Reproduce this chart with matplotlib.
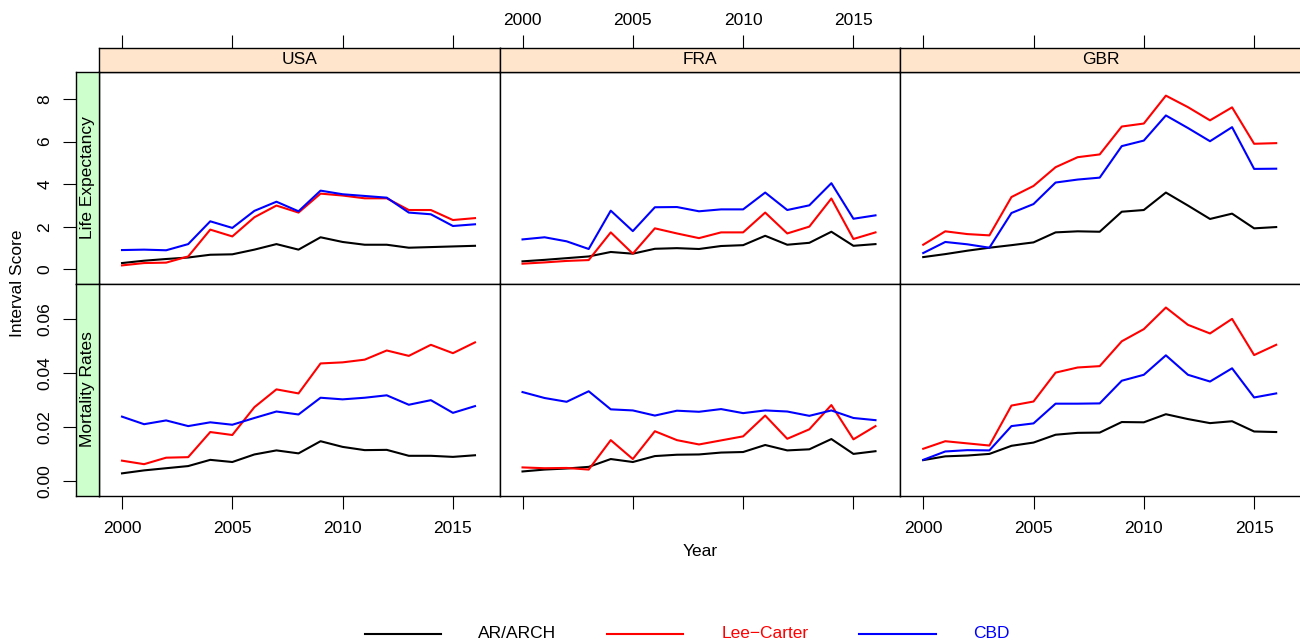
import matplotlib
matplotlib.use("Agg")
import matplotlib.pyplot as plt
from matplotlib.lines import Line2D

plt.rcParams['font.family'] = ['Liberation Sans', 'DejaVu Sans']

# data
years = list(range(2000, 2017))
countries = ['USA', 'FRA', 'GBR']
measures = ['Life Expectancy', 'Mortality Rates']
models = ['AR/ARCH', 'Lee\u2212Carter', 'CBD']
colors = ['black', 'red', 'blue']

usa_le_ar = [0.30, 0.41, 0.49, 0.56, 0.69, 0.71, 0.93, 1.19, 0.93, 1.51, 1.29, 1.16, 1.16, 1.02, 1.05, 1.08, 1.11]
usa_le_lc = [0.19, 0.30, 0.32, 0.61, 1.87, 1.55, 2.45, 3.00, 2.67, 3.56, 3.47, 3.34, 3.34, 2.79, 2.79, 2.32, 2.41]
usa_le_cbd = [0.91, 0.93, 0.90, 1.19, 2.26, 1.95, 2.75, 3.18, 2.73, 3.70, 3.53, 3.45, 3.37, 2.67, 2.59, 2.04, 2.12]

fra_le_ar = [0.38, 0.45, 0.53, 0.61, 0.82, 0.74, 0.97, 1.00, 0.96, 1.10, 1.14, 1.58, 1.16, 1.25, 1.77, 1.11, 1.19]
fra_le_lc = [0.27, 0.33, 0.40, 0.44, 1.74, 0.74, 1.93, 1.69, 1.47, 1.74, 1.74, 2.67, 1.69, 2.01, 3.33, 1.43, 1.74]
fra_le_cbd = [1.41, 1.51, 1.32, 0.96, 2.76, 1.80, 2.92, 2.93, 2.73, 2.82, 2.82, 3.61, 2.79, 3.01, 4.05, 2.38, 2.54]

gbr_le_ar = [0.58, 0.72, 0.88, 1.02, 1.14, 1.27, 1.74, 1.79, 1.77, 2.71, 2.79, 3.61, 3.00, 2.37, 2.62, 1.93, 1.99]
gbr_le_lc = [1.16, 1.79, 1.66, 1.60, 3.40, 3.92, 4.80, 5.27, 5.40, 6.71, 6.85, 8.16, 7.62, 7.00, 7.61, 5.90, 5.93]
gbr_le_cbd = [0.77, 1.29, 1.18, 1.02, 2.65, 3.07, 4.08, 4.22, 4.31, 5.79, 6.05, 7.23, 6.64, 6.02, 6.68, 4.72, 4.73]

usa_mr_ar = [0.0030, 0.0041, 0.0049, 0.0057, 0.0080, 0.0072, 0.0100, 0.0115, 0.0104, 0.0149, 0.0128, 0.0116, 0.0117, 0.0095, 0.0095, 0.0091, 0.0097]
usa_mr_lc = [0.0077, 0.0064, 0.0088, 0.0090, 0.0183, 0.0172, 0.0275, 0.0341, 0.0326, 0.0437, 0.0441, 0.0451, 0.0485, 0.0465, 0.0506, 0.0475, 0.0515]
usa_mr_cbd = [0.0240, 0.0212, 0.0226, 0.0205, 0.0219, 0.0210, 0.0235, 0.0259, 0.0248, 0.0310, 0.0304, 0.0310, 0.0319, 0.0284, 0.0301, 0.0254, 0.0279]

fra_mr_ar = [0.0037, 0.0044, 0.0048, 0.0054, 0.0083, 0.0072, 0.0094, 0.0099, 0.0100, 0.0107, 0.0109, 0.0135, 0.0115, 0.0119, 0.0157, 0.0102, 0.0112]
fra_mr_lc = [0.0052, 0.0049, 0.0050, 0.0044, 0.0153, 0.0083, 0.0186, 0.0153, 0.0137, 0.0152, 0.0167, 0.0244, 0.0158, 0.0193, 0.0283, 0.0156, 0.0205]
fra_mr_cbd = [0.0331, 0.0309, 0.0295, 0.0334, 0.0267, 0.0263, 0.0244, 0.0262, 0.0258, 0.0268, 0.0253, 0.0263, 0.0259, 0.0243, 0.0263, 0.0235, 0.0227]

gbr_mr_ar = [0.0079, 0.0093, 0.0096, 0.0102, 0.0132, 0.0144, 0.0173, 0.0180, 0.0181, 0.0220, 0.0219, 0.0249, 0.0231, 0.0216, 0.0223, 0.0185, 0.0183]
gbr_mr_lc = [0.0121, 0.0149, 0.0141, 0.0133, 0.0281, 0.0296, 0.0403, 0.0422, 0.0427, 0.0519, 0.0564, 0.0644, 0.0580, 0.0548, 0.0602, 0.0468, 0.0506]
gbr_mr_cbd = [0.0080, 0.0111, 0.0116, 0.0115, 0.0205, 0.0215, 0.0288, 0.0288, 0.0289, 0.0373, 0.0395, 0.0467, 0.0395, 0.0370, 0.0419, 0.0311, 0.0326]

panels = {
    ('Life Expectancy', 'USA'): [usa_le_ar, usa_le_lc, usa_le_cbd],
    ('Life Expectancy', 'FRA'): [fra_le_ar, fra_le_lc, fra_le_cbd],
    ('Life Expectancy', 'GBR'): [gbr_le_ar, gbr_le_lc, gbr_le_cbd],
    ('Mortality Rates', 'USA'): [usa_mr_ar, usa_mr_lc, usa_mr_cbd],
    ('Mortality Rates', 'FRA'): [fra_mr_ar, fra_mr_lc, fra_mr_cbd],
    ('Mortality Rates', 'GBR'): [gbr_mr_ar, gbr_mr_lc, gbr_mr_cbd],
}

x_ticks = [2000, 2005, 2010, 2015]
y_ticks = {'Life Expectancy': [0, 2, 4, 6, 8],
           'Mortality Rates': [0.00, 0.02, 0.04, 0.06]}
y_fmt = {'Life Expectancy': '{:.0f}', 'Mortality Rates': '{:.2f}'}
y_lims = {'Life Expectancy': (-0.66, 9.27), 'Mortality Rates': (-0.0052, 0.0733)}
x_lim = (1998.957, 2017.12)

W, H = 1300, 643
FS = 12.5
TICK_LEN = 9.5
TICK_W = 0.8
strip_top = '#ffe5cc'
strip_left = '#ccffcc'

fig = plt.figure(figsize=(W / 100, H / 100), dpi=100)


def rect(x0, y0, x1, y1):
    # pixel box (top-left origin) -> figure fraction
    return [x0 / W, 1 - y1 / H, (x1 - x0) / W, (y1 - y0) / H]


col_left = [99, 499.5, 900.2]
col_w = 400.7
row_top = [72, 283.5]
row_h = [211.5, 212]

for r, meas in enumerate(measures):
    y0 = row_top[r]
    y1 = y0 + row_h[r]
    for c, ctry in enumerate(countries):
        x0 = col_left[c]
        x1 = x0 + col_w
        ax = fig.add_axes(rect(x0, y0, x1, y1))
        for series, col, name in zip(panels[(meas, ctry)], colors, models):
            ax.plot(years, series, color=col, lw=1.5, label=name)
        ax.set_xlim(*x_lim)
        ax.set_ylim(*y_lims[meas])
        ax.set_xticks(x_ticks)
        ax.set_yticks([])
        for s in ax.spines.values():
            s.set_linewidth(1.0)
        ax.tick_params(axis='x', direction='out', length=TICK_LEN, width=TICK_W,
                       labelsize=FS, pad=9)
        if r == 1:
            ax.tick_params(axis='x', bottom=True, labelbottom=(c != 1), top=False)
        else:
            ax.tick_params(axis='x', bottom=False, labelbottom=False, top=False)

        # top strip
        if r == 0:
            sax = fig.add_axes(rect(x0, 48, x1, 72), facecolor=strip_top)
            sax.set_xlim(*x_lim)
            sax.set_ylim(0, 1)
            sax.set_yticks([])
            sax.set_xticks(x_ticks)
            sax.tick_params(axis='x', direction='out', length=TICK_LEN, width=TICK_W,
                            labelsize=FS, pad=5, bottom=False, labelbottom=False,
                            top=True, labeltop=(c == 1))
            for s in sax.spines.values():
                s.set_linewidth(1.0)
            sax.text(0.5, 0.5, ctry, transform=sax.transAxes, ha='center',
                     va='center', fontsize=FS)

    # left strip with y ticks
    lax = fig.add_axes(rect(75.5, y0, 99, y1), facecolor=strip_left)
    lax.set_ylim(*y_lims[meas])
    lax.set_xlim(0, 1)
    lax.set_xticks([])
    lax.set_yticks(y_ticks[meas])
    lax.set_yticklabels([y_fmt[meas].format(v) for v in y_ticks[meas]],
                        rotation=90, va='center')
    lax.tick_params(axis='y', direction='out', length=TICK_LEN, width=TICK_W,
                    labelsize=FS, pad=7)
    for s in lax.spines.values():
        s.set_linewidth(1.0)
    lax.text(0.5, 0.5, meas, transform=lax.transAxes, ha='center', va='center',
             rotation=90, fontsize=FS)

fig.text(700 / W, 1 - 551 / H, 'Year', ha='center', va='center', fontsize=FS)
fig.text(18 / W, 1 - 283 / H, 'Interval Score', ha='center', va='center',
         rotation=90, fontsize=FS)

# legend along the bottom
leg_lines = [(365, 441, 517.5), (607, 683, 765), (859, 936, 991)]
leg_y = 1 - 633.5 / H
for (lx0, lx1, tx), col, name in zip(leg_lines, colors, models):
    fig.add_artist(Line2D([lx0 / W, lx1 / W], [leg_y, leg_y], color=col, lw=1.5,
                          transform=fig.transFigure))
    fig.text(tx / W, leg_y, name, color=col, ha='center', va='center', fontsize=FS)

fig.savefig('out.png', dpi=100)
